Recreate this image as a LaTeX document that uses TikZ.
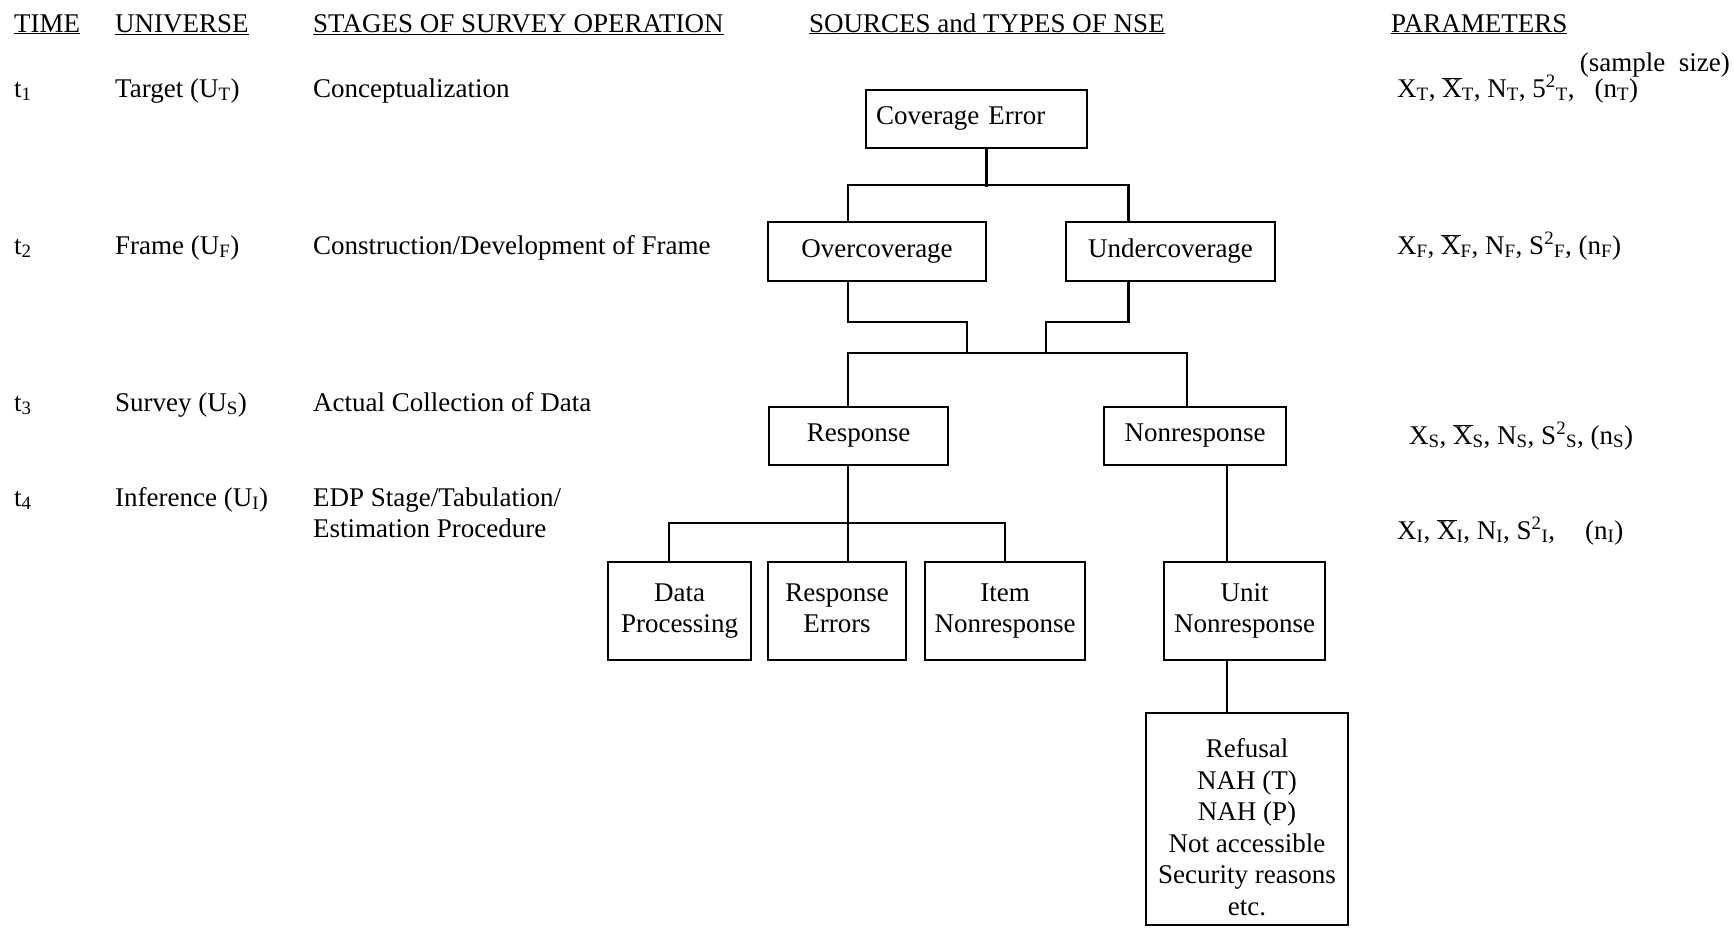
\documentclass[tikz,border=0pt]{standalone}
\usepackage{fontspec}
\setmainfont{Liberation Serif}
\usetikzlibrary{positioning}

\newcommand{\xbar}{$\overline{\hbox{X}}$}

\begin{document}
\begin{tikzpicture}[x=1pt, y=-1pt, line width=2.4pt, font=\fontsize{27}{31.5}\selectfont,
    box/.style={draw, inner sep=0pt, text depth=6pt, align=center},
    lbl/.style={anchor=base west, inner sep=0pt}]

    \useasboundingbox (0,0) rectangle (1734,927);

    \node[lbl]                                  (hTime)   at (13,32)      {\underline{TIME}};
    \node[lbl]                                  (hUniv)   at (114,32)     {\underline{UNIVERSE}};
    \node[lbl]                                  (hStage)  at (312,32)     {\underline{STAGES OF SURVEY OPERATION}};
    \node[lbl]                                  (hNse)    at (808,32)     {\underline{SOURCES and TYPES OF NSE}};
    \node[lbl]                                  (hParam)  at (1390,32)    {\underline{PARAMETERS}};
    \node[anchor=base east, inner sep=0pt]      (sample)  at (1731,71)    {(sample\ \ size)};

    \node[lbl]                                  (t1)      at (13,97)      {t\textsubscript{1}};
    \node[lbl]                                  (uT)      at (114,97)     {Target (U\textsubscript{T})};
    \node[lbl]                                  (stage1)  at (312,97)     {Conceptualization};
    \node[lbl]                                  (parT)    at (1396,97)    {X\textsubscript{T}, \xbar\textsubscript{T}, N\textsubscript{T}, 5\textsuperscript{2}\textsubscript{T},\hspace{20pt}(n\textsubscript{T})};

    \node[lbl]                                  (t2)      at (13,254)     {t\textsubscript{2}};
    \node[lbl]                                  (uF)      at (114,254)    {Frame (U\textsubscript{F})};
    \node[lbl]                                  (stage2)  at (312,254)    {Construction/Development of Frame};
    \node[lbl]                                  (parF)    at (1396,254)   {X\textsubscript{F}, \xbar\textsubscript{F}, N\textsubscript{F}, S\textsuperscript{2}\textsubscript{F}, (n\textsubscript{F})};

    \node[lbl]                                  (t3)      at (13,411)     {t\textsubscript{3}};
    \node[lbl]                                  (uS)      at (114,411)    {Survey (U\textsubscript{S})};
    \node[lbl]                                  (stage3)  at (312,411)    {Actual Collection of Data};
    \node[lbl]                                  (parS)    at (1408,444)   {X\textsubscript{S}, \xbar\textsubscript{S}, N\textsubscript{S}, S\textsuperscript{2}\textsubscript{S}, (n\textsubscript{S})};

    \node[lbl]                                  (t4)      at (13,506)     {t\textsubscript{4}};
    \node[lbl]                                  (uI)      at (114,506)    {Inference (U\textsubscript{I})};
    \node[anchor=west, inner sep=0pt, align=left] (stage4) at (312,513)   {EDP Stage/Tabulation/\\Estimation Procedure};
    \node[lbl]                                  (parI)    at (1396,539)   {X\textsubscript{I}, \xbar\textsubscript{I}, N\textsubscript{I}, S\textsuperscript{2}\textsubscript{I},\hspace{30pt}(n\textsubscript{I})};

    \node[box, minimum width=221pt, minimum height=58pt, text width=201pt, align=left] (cov) at (976.5,119) {Coverage Error};
    \node[box, minimum width=218pt, minimum height=59pt]   (over)    at (877,251.5)    {Overcoverage};
    \node[box, minimum width=209pt, minimum height=59pt]   (under)   at (1170.5,251.5) {Undercoverage};
    \node[box, minimum width=179pt, minimum height=58pt]   (resp)    at (858.5,436)    {Response};
    \node[box, minimum width=182pt, minimum height=58pt]   (nonresp) at (1195,436)     {Nonresponse};
    \node[box, minimum width=143pt, minimum height=98pt]   (dproc)   at (679.5,611)    {Data\\Processing};
    \node[box, minimum width=138pt, minimum height=98pt]   (rerr)    at (837,611)      {Response\\Errors};
    \node[box, minimum width=160pt, minimum height=98pt]   (item)    at (1005,611)     {Item\\Nonresponse};
    \node[box, minimum width=161pt, minimum height=98pt]   (unit)    at (1244.5,611)   {Unit\\Nonresponse};
    \node[box, minimum width=202pt, minimum height=212pt]  (refusal) at (1247,819)     {\rule{0pt}{41pt}Refusal\\NAH (T)\\NAH (P)\\Not accessible\\Security reasons\\etc.};

    \coordinate (mid1) at (967,354);
    \coordinate (mid2) at (1046,354);

    \draw ([xshift=10pt]cov.south)      -- ++(0,38);
    \draw ([xshift=-29pt]over.north)    -- ++(0,-36) -| ([xshift=-42pt]under.north);
    \draw ([xshift=-29pt]over.south)    -- ++(0,40)  -| (mid1);
    \draw ([xshift=-42pt]under.south)   -- ++(0,40)  -| (mid2);
    \draw ([xshift=-10.5pt]resp.north)  -- ++(0,-53) -| ([xshift=-8pt]nonresp.north);
    \draw ([xshift=-10.5pt]resp.south)  -- ([xshift=11pt]rerr.north);
    \draw ([xshift=-10.5pt]dproc.north) -- ++(0,-38) -| (item.north);
    \draw ([xshift=32pt]nonresp.south)  -- ([xshift=-17.5pt]unit.north);
    \draw ([xshift=-17.5pt]unit.south)  -- ([xshift=-20pt]refusal.north);

\end{tikzpicture}
\end{document}
